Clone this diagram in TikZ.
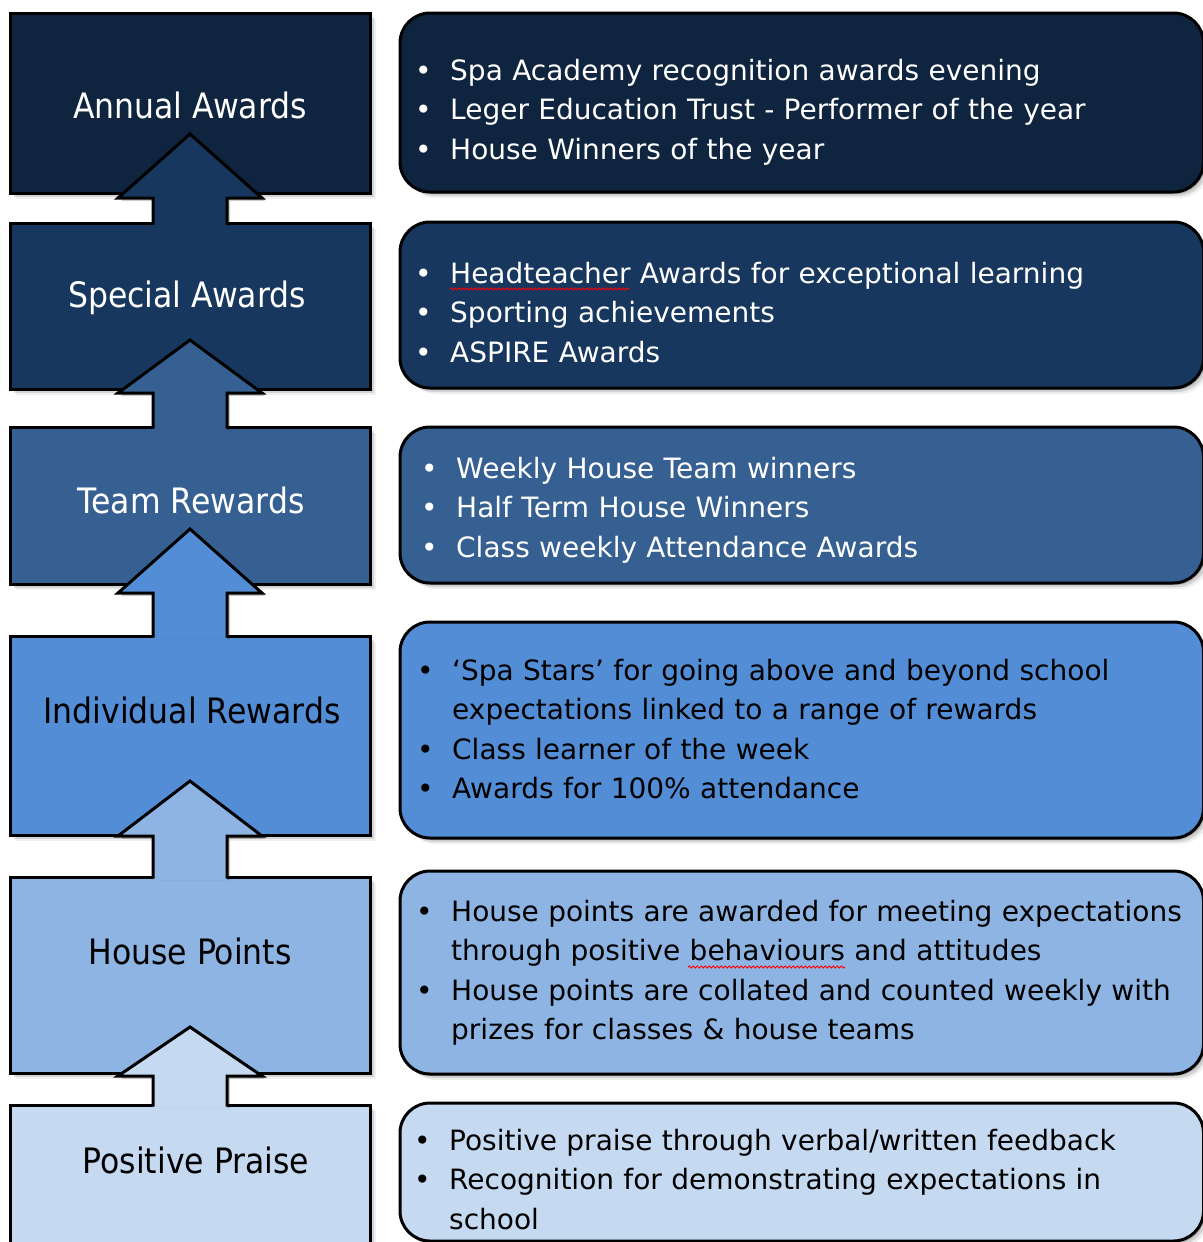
\documentclass[tikz,border=0pt]{standalone}
\usepackage{fontspec}
\setmainfont{DejaVu Sans}
\newfontfamily\tierfont{DejaVu Sans}[FakeStretch=0.9]
\usetikzlibrary{shadows,decorations.pathmorphing}

\definecolor{annualblue}{HTML}{0F243E}
\definecolor{specialblue}{HTML}{17375E}
\definecolor{teamblue}{HTML}{366092}
\definecolor{indivblue}{HTML}{538DD5}
\definecolor{houseblue}{HTML}{8DB4E2}
\definecolor{praiseblue}{HTML}{C5D9F1}

% one bullet point, hanging indent for wrapped lines
\newcommand{\bulletline}[1]{\noindent\hangindent=35pt\hangafter=1\makebox[35pt][l]{\textbullet}\strut#1\strut\par}

\tikzset{
  soft shadow/.style={
    general shadow={shadow xshift=2pt, shadow yshift=-2pt, fill=black, draw=none, opacity=.18},
    general shadow={shadow xshift=4pt, shadow yshift=-4pt, fill=black, draw=none, opacity=.12},
    general shadow={shadow xshift=6pt, shadow yshift=-6pt, fill=black, draw=none, opacity=.06}},
  tier/.style={draw, line width=3pt, minimum width=360pt, inner sep=0pt, soft shadow},
  info/.style={draw, line width=3pt, rounded corners=30pt, minimum width=803.5pt, inner sep=0pt, soft shadow},
  tierlabel/.style={anchor=base, inner sep=0pt, font=\tierfont\fontsize{35}{42}\selectfont},
  infotext/.style={anchor=north west, inner sep=0pt, text width=778pt, align=left,
    font=\fontsize{28}{39.5}\selectfont},
  squiggle/.style={red, line width=1pt, decorate, decoration={snake, amplitude=1pt, segment length=4pt}}
}

\begin{document}
\begin{tikzpicture}[x=1pt, y=-1pt]
  \useasboundingbox (0,0) rectangle (1202,1242);

  % right-hand description boxes
  \node[info, fill=annualblue, minimum height=179pt] (annualinfo) at (801.75,102.5) {};
  \node[info, fill=specialblue, minimum height=166pt] (specialinfo) at (801.75,305) {};
  \node[info, fill=teamblue, minimum height=156pt] (teaminfo) at (801.75,505) {};
  \node[info, fill=indivblue, minimum height=216pt] (indivinfo) at (801.75,730) {};
  \node[info, fill=houseblue, minimum height=203pt] (houseinfo) at (801.75,972.5) {};
  \node[info, fill=praiseblue, minimum height=138pt] (praiseinfo) at (801.75,1172) {};

  % left-hand tiers
  \node[tier, fill=annualblue, minimum height=180pt] (annual) at (190,103) {};
  \node[tier, fill=specialblue, minimum height=166pt] (special) at (190,306) {};
  \node[tier, fill=teamblue, minimum height=157pt] (team) at (190,505.5) {};
  \node[tier, fill=indivblue, minimum height=199pt] (individual) at (190,735.5) {};
  \node[tier, fill=houseblue, minimum height=196pt] (housepts) at (190,975) {};
  \node[tier, fill=praiseblue, minimum height=165pt] (praise) at (190,1187.5) {};

  % block arrows from each tier up to the next one
  \foreach \ty/\by/\fy/\clr in {134/198/223/specialblue, 340/393/427/teamblue,
      529/593/636/indivblue, 781/836/877/houseblue, 1027/1076/1105/praiseblue} {
    \fill[black, opacity=.2, shift={(3,3)}] (153,\fy) -- (153,\by) -- (118,\by) -- (190,\ty)
      -- (262,\by) -- (227,\by) -- (227,\fy) -- cycle;
    \fill[\clr] (153,\fy+3) -- (153,\by) -- (118,\by) -- (190,\ty)
      -- (262,\by) -- (227,\by) -- (227,\fy+3) -- cycle;
    \draw[line width=3pt] (153,\fy+1.5) -- (153,\by) -- (118,\by) -- (190,\ty)
      -- (262,\by) -- (227,\by) -- (227,\fy+1.5);
  }

  % tier labels
  \node[tierlabel, text=white] (annualtxt) at (190,118) {Annual Awards};
  \node[tierlabel, text=white] (specialtxt) at (187,307) {Special Awards};
  \node[tierlabel, text=white] (teamtxt) at (191,513) {Team Rewards};
  \node[tierlabel] (individualtxt) at (192,723) {Individual Rewards};
  \node[tierlabel] (houseptstxt) at (190,964) {House Points};
  \node[tierlabel] (praisetxt) at (196,1173) {Positive Praise};

  % bullet lists
  \node[infotext, text=white] (annuallist) at (415,52.5) {%
    \bulletline{Spa Academy recognition awards evening}
    \bulletline{Leger Education Trust - Performer of the year}
    \bulletline{House Winners of the year}};
  \node[infotext, text=white] (speciallist) at (415,255.5) {%
    \bulletline{Headteacher Awards for exceptional learning}
    \bulletline{Sporting achievements}
    \bulletline{ASPIRE Awards}};
  \node[infotext, text=white] (teamlist) at (421,450.5) {%
    \bulletline{Weekly House Team winners}
    \bulletline{Half Term House Winners}
    \bulletline{Class weekly Attendance Awards}};
  \node[infotext] (indivlist) at (417,652.5) {%
    \bulletline{‘Spa Stars’ for going above and beyond school\newline expectations linked to a range of rewards}
    \bulletline{Class learner of the week}
    \bulletline{Awards for 100\% attendance}};
  \node[infotext] (houselist) at (416,893.5) {%
    \bulletline{House points are awarded for meeting expectations\newline through positive behaviours and attitudes}
    \bulletline{House points are collated and counted weekly with\newline prizes for classes \& house teams}};
  \node[infotext] (praiselist) at (414,1122.5) {%
    \bulletline{Positive praise through verbal/written feedback}
    \bulletline{Recognition for demonstrating expectations in\newline school}};

  % spell-check marks
  \draw[squiggle] (450,289) -- (629,289);
  \draw[squiggle] (688,967) -- (845,967);
\end{tikzpicture}
\end{document}
